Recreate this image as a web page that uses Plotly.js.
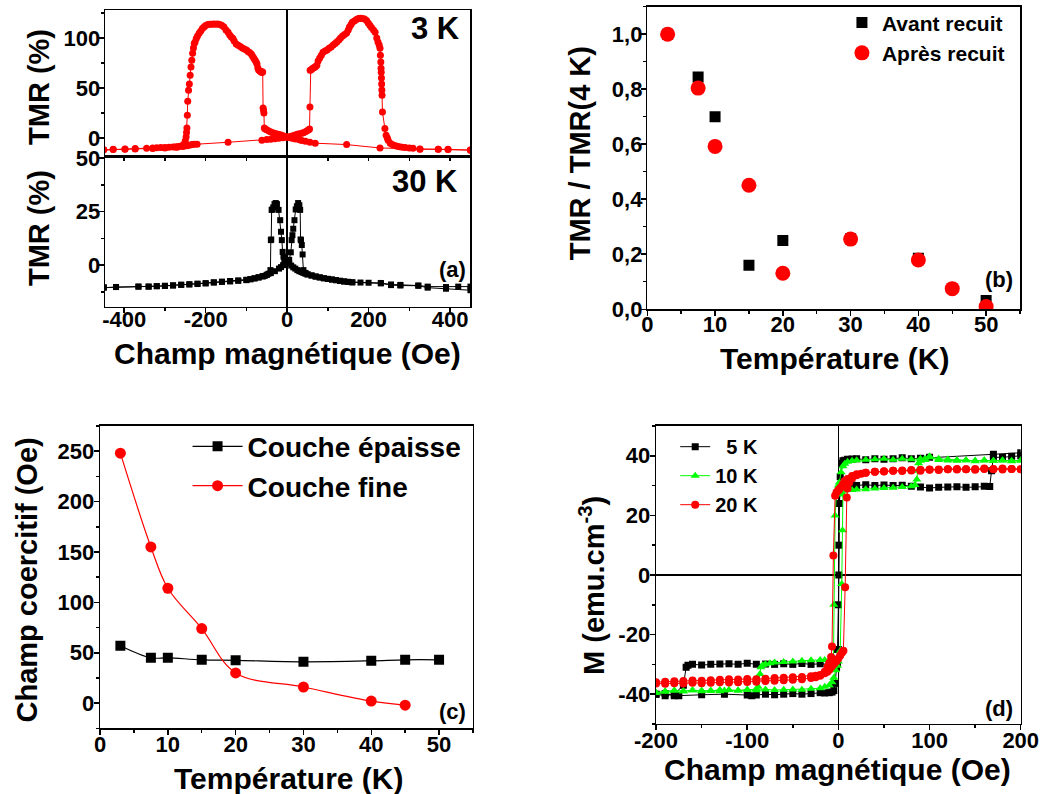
<!DOCTYPE html>
<html>
<head>
<meta charset="utf-8">
<script src="https://cdn.plot.ly/plotly-3.0.1.min.js"></script>
<style>html,body{margin:0;padding:0;background:#fff;}#chart{width:1042px;height:794px;}</style>
</head>
<body>
<div id="chart"></div>
<script>
// ---------- Panel (a) : TMR vs field, 3 K ----------
const tmr3K_fieldDown = [450, 395, 371, 326, 228, 146, 69, 56, 45, 36, 30, 20, 16, 10, 5, 0, -5, -10, -15, -20, -25, -30, -35, -40, -45, -50, -54, -56, -57, -58, -59, -60, -61, -62, -63, -65, -67, -70, -72, -74, -76, -79, -82, -85, -88, -92, -96, -100, -105, -110, -115, -120, -125, -130, -133, -137, -141, -145, -150, -155, -160, -165, -170, -175, -180, -185, -190, -195, -200, -204, -208, -212, -216, -220, -223, -226, -228, -230, -232, -234, -236, -238, -240, -242, -244, -245, -246, -247, -248, -250, -253, -256, -260, -265, -270, -275, -280, -290, -300, -310, -320, -330, -345, -373, -398, -427, -450];
const tmr3K_down = [-12, -11.3, -11.3, -11, -10, -6.6, -5.2, -4.3, -3.2, -2.5, -1.8, -1, -0.6, 0, 0.5, 1, 1.5, 2.2, 3, 3.5, 4, 4.5, 5.2, 6, 7, 8.2, 9, 10, 25, 28, 30, 66, 66, 65.5, 66, 66.5, 67, 68, 70, 74, 76, 78, 80, 82, 84, 85.5, 86.5, 88, 89, 90, 91.5, 92.7, 94, 97, 99.5, 101, 103, 105.7, 108, 111, 112.5, 113.5, 114, 113.8, 114, 113.7, 113.8, 113.5, 112.5, 111, 109.5, 107, 104.7, 102, 99.4, 96, 94.4, 90, 84.7, 77.7, 71, 62.7, 54, 47.7, 36.7, 22.7, 10, 5.4, 1, -3, -6, -7.5, -8, -8.5, -8.7, -9, -9, -9.2, -9.5, -9.6, -9.8, -10, -10.2, -10.5, -11, -11.3, -11.8];
const tmr3K_fieldUp = [-450, -427, -398, -373, -330, -300, -270, -255, -245, -238, -233, -228, -221, -145, -62, -50, -40, -30, -20, -10, 0, 5, 10, 16, 20, 25, 30, 36, 40, 45, 50, 53, 55, 56, 56.5, 58, 61, 64, 67, 70, 73, 76, 80, 84, 88, 93, 98, 103, 108, 113, 118, 122, 127, 131, 136, 141, 146, 150, 153, 157, 160, 165, 170, 175, 180, 185, 190, 195, 199, 203, 207, 212, 216, 220, 223, 226, 228, 229, 230, 230.5, 231, 231.5, 232, 232.5, 233, 234, 240, 243, 246, 248, 253, 258, 264, 270, 276, 283, 290, 300, 309, 326, 371, 395, 450];
const tmr3K_up = [-12, -11.5, -11.3, -11, -10.5, -10, -9.3, -8.5, -7.7, -7, -6.5, -6.3, -6.2, -4.3, -2.3, -1.6, -1.2, -0.7, -0.2, 0.3, 0.8, 1, 1.8, 2.5, 3, 3.6, 4.2, 4.8, 5.3, 6.2, 7.4, 8.3, 9, 31, 67.7, 68, 69, 70, 70.5, 71.5, 72.7, 77, 80, 82.7, 85.7, 87, 88, 89.7, 91, 93, 94.5, 96, 98, 100, 102, 103.5, 105, 108, 111, 113.5, 115.7, 117, 118.5, 119.5, 119.7, 119.5, 119, 117.5, 115, 112.7, 110.5, 108, 105.7, 100, 96, 93, 89.7, 82.7, 76, 69.7, 65.7, 60, 54, 48, 42.7, 26, 9.4, 2.7, 0, -2.3, -5.3, -6.5, -7.5, -8.3, -8.8, -9.2, -9.6, -10, -10.3, -11.3, -11.3, -11.5, -12.2];

// ---------- Panel (a) : TMR vs field, 30 K ----------
const tmr30K_fieldDown = [450, 420, 390, 345, 322, 278, 255, 230, 200, 180, 160, 150, 140, 130, 120, 110, 100, 90, 80, 70, 60, 50, 45, 40, 35, 30, 25, 20, 15, 10, 5, 0, -3, -7, -9, -11, -13, -15, -17, -21, -25, -28, -31, -34, -36, -38, -39, -40, -41, -46, -50, -55, -60, -70, -80, -90, -100, -120, -140, -160, -180, -200, -220, -240, -260, -280, -300, -320, -340, -365, -420, -450];
const tmr30K_down = [-10, -10, -10.2, -10, -9.5, -9.2, -9, -8.3, -8.2, -8.1, -8, -7.8, -7.6, -7.3, -7, -6.7, -6.4, -6.1, -5.7, -5.3, -4.8, -4.3, -4, -3.6, -3.2, -2.8, -2.3, -1.6, -1, -0.2, 0.8, 1.5, 2, 2.3, 4, 6.2, 11.7, 15.6, 21, 25.8, 28.5, 29, 28.5, 27, 26, 25.8, 12, 11.7, -2.3, -4, -4.5, -5, -5.3, -5.8, -6.2, -6.6, -7, -7.3, -7.6, -7.8, -8.1, -8.5, -8.8, -9, -9.2, -9.5, -9.7, -9.8, -10, -10, -10.2, -10.3];
const tmr30K_fieldUp = [-450, -420, -365, -340, -320, -300, -280, -260, -240, -220, -200, -180, -160, -140, -120, -100, -90, -80, -70, -60, -50, -40, -30, -20, -15, -10, -5, 0, 5, 9, 11, 13, 15, 18, 21, 24, 27, 30, 32, 33, 34, 36, 38, 40, 45, 50, 60, 70, 80, 90, 100, 110, 120, 130, 140, 150, 160, 230, 255, 278, 322, 345, 390, 450];
const tmr30K_up = [-10.5, -10.2, -10, -10, -9.8, -9.6, -9.4, -9.1, -8.9, -8.6, -8.4, -8, -7.7, -7.4, -7.1, -6.8, -6.5, -6.1, -5.6, -5.1, -4.5, -3.7, -2.8, -1.6, -0.9, 0, 0.9, 1.5, 2.5, 6, 11.7, 14, 17, 21, 26, 27.5, 29, 28, 25.8, 12, 11.7, 9.4, 5, -2.3, -3.6, -4.3, -4.8, -5.3, -5.7, -6.1, -6.4, -6.7, -7, -7.3, -7.6, -7.8, -8, -8.5, -9.3, -9.5, -9.6, -10.5, -11, -11.7];

// ---------- Panel (b) : normalised TMR vs temperature ----------
const tempAvant = [3, 7.5, 10, 15, 20, 30, 40, 50];
const tmrAvant = [1.0, 0.844, 0.70, 0.16, 0.25, 0.256, 0.185, 0.032];
const tempApres = [3, 7.5, 10, 15, 20, 30, 40, 45, 50];
const tmrApres = [1.0, 0.804, 0.592, 0.451, 0.131, 0.255, 0.179, 0.075, 0.01];

// ---------- Panel (c) : coercive field vs temperature ----------
const tempEpaisse = [3, 7.5, 10, 15, 20, 30, 40, 45, 50];
const hcEpaisse = [57, 45, 45, 43, 42.5, 41, 42, 43, 43];
const tempFine = [3, 7.5, 10, 15, 20, 30, 40, 45];
const hcFine = [248, 155, 114, 74, 30, 16, 2, -2];

// ---------- Panel (d) : M(H) loops ----------
const m5K_fieldDown = [200, 170, 100, 90, 80, 70, 60, 50, 40, 30, 20, 15, 10, 7, 5, 3.7, 2, 1, 0.5, 0, -1, -3, -5, -10, -20, -30, -40, -50, -60, -70, -80, -90, -100, -110, -120, -130, -140, -150, -160, -165, -167, -170, -180, -190, -200];
const m5K_down = [41, 40.5, 39.5, 39.2, 39, 39.3, 39, 38.8, 39, 38.7, 39, 38.9, 38.8, 38.5, 38.3, 37.5, 33, 24, 0, -25, -29.5, -30, -30.2, -30, -29.8, -30, -29.7, -30, -29.8, -30, -29.9, -30, -29.6, -30, -29.8, -29.9, -30, -30.2, -30, -30.3, -31, -37, -40, -40.5, -40];
const m5K_fieldUp = [-200, -190, -180, -175, -150, -125, -100, -95, -90, -80, -70, -60, -50, -40, -30, -20, -15, -10, -7, -5, -3.6, -2, -1, 0, 0.5, 1, 2, 3, 5, 10, 15, 20, 30, 40, 50, 60, 70, 80, 90, 100, 110, 120, 130, 140, 150, 160, 166, 168, 170, 180, 190, 200];
const m5K_up = [-40, -39.8, -40.5, -40.5, -40.2, -40, -40.3, -40.5, -40.3, -40, -40.2, -40, -39.8, -40, -39.8, -39.5, -39.6, -39.5, -39.3, -38.8, -36.4, -31, -25, -10, 10, 24, 28, 29.5, 30, 30, 30.2, 30, 30.3, 30, 30.2, 30, 30.1, 29.8, 29.5, 29.2, 29.4, 29.5, 29.6, 29.4, 29.6, 29.8, 29.7, 35, 39.5, 39.5, 39.8, 40];

const m10K_fieldDown = [200, 190, 180, 170, 160, 150, 140, 130, 120, 110, 100, 95, 90, 80, 70, 60, 50, 40, 30, 20, 15, 10, 7, 5, 3, 1, 0, -2, -3.6, -5, -5.5, -7, -10, -15, -20, -30, -40, -50, -60, -70, -75, -80, -83, -85, -86, -88, -90, -100, -110, -120, -130, -140, -150, -160, -170, -180, -190, -200];
const m10K_down = [38.5, 38.3, 38.5, 38.3, 38.4, 38.2, 38.5, 38.3, 38.4, 38.6, 39.5, 39, 39, 38.8, 39, 38.7, 39, 38.8, 38.7, 38.5, 38.3, 38, 37.3, 36.5, 34.5, 31, 30, 28, 20, -10, -31, -29.5, -28.5, -28.5, -28.5, -28.6, -28.8, -29, -29.2, -29.4, -29.6, -30, -30.3, -31, -33.2, -37.5, -38.3, -38.5, -38.8, -38.6, -39, -38.8, -39, -38.7, -39, -38.8, -39.2, -39.5];
const m10K_fieldUp = [-200, -190, -180, -170, -160, -150, -140, -130, -125, -120, -110, -100, -90, -80, -70, -60, -50, -40, -30, -20, -15, -10, -7, -5, -3, -1, 0, 2, 3.7, 4.5, 5, 6, 8, 10, 15, 20, 30, 40, 50, 60, 70, 80, 84, 86, 87, 88, 90, 95, 100, 110, 120, 130, 140, 150, 160, 170, 180, 190, 200];
const m10K_up = [-39.5, -39, -38.8, -39, -38.7, -38.8, -38.9, -38.5, -38.8, -38.6, -38.8, -38.5, -38.7, -38.4, -38.6, -38.5, -38.4, -38.5, -38.2, -38, -37.5, -37, -36, -34.5, -32, -30.5, -29, -25.4, -3, 15, 27, 28.3, 28.5, 28.6, 28.5, 28.7, 28.8, 29, 29.2, 29.3, 29.5, 29.8, 30.2, 32, 35, 37.5, 38.3, 38.6, 39.8, 39, 38.8, 38.6, 38.5, 38.4, 38.5, 38.3, 38.4, 38.2, 38.3];

const m20K_fieldDown = [200, 190, 180, 170, 160, 150, 140, 130, 120, 110, 100, 90, 80, 70, 60, 50, 40, 30, 20, 15, 10, 7, 5, 3, 1, 0, -2, -3.6, -5.5, -7, -8, -10, -12, -15, -20, -25, -30, -40, -50, -60, -70, -80, -90, -100, -110, -120, -130, -140, -150, -160, -170, -180, -190, -200];
const m20K_down = [35.5, 35.6, 35.4, 35.5, 35.6, 35.3, 35.5, 35.4, 35.5, 35.2, 35.3, 35, 35.1, 34.9, 35, 34.7, 34.6, 34.3, 33.8, 33.2, 32.2, 31.5, 30.5, 29.5, 28.8, 28.4, 27.8, 26.6, 6.5, -24, -27.5, -29.5, -31, -32.5, -33.8, -34.3, -34.6, -35, -35.2, -35.3, -35.5, -35.6, -35.8, -35.9, -36, -36.1, -36, -36.2, -36.3, -36.2, -36.4, -36.3, -36.5, -36.4];
const m20K_fieldUp = [-200, -190, -180, -170, -160, -150, -140, -130, -120, -110, -100, -90, -80, -70, -60, -50, -40, -30, -25, -20, -15, -12, -10, -8, -6, -4, -2, 0, 2, 4, 5.5, 7.4, 9.2, 10, 12, 15, 20, 25, 30, 40, 50, 60, 70, 80, 90, 100, 110, 120, 130, 140, 150, 160, 170, 180, 190, 200];
const m20K_up = [-36, -35.8, -35.7, -35.6, -35.4, -35.5, -35.3, -35.2, -35, -35.1, -34.9, -35, -34.8, -34.6, -34.5, -34.3, -34.2, -34, -33.8, -33.6, -33, -32.5, -31.8, -31, -30.2, -29.5, -28.8, -28, -27, -26, -25.4, -4.1, 26, 29, 31, 32.5, 33.5, 34, 34.3, 34.6, 34.8, 35, 35.1, 35.2, 35.3, 35.4, 35.4, 35.5, 35.6, 35.5, 35.6, 35.7, 35.6, 35.7, 35.6, 35.5];

// ---------- Tick values ----------
const ticksA_x = [-400, -200, 0, 200, 400];
const ticksA_yTop = [0, 50, 100];
const ticksA_yBot = [0, 25, 50];
const ticksT = [0, 10, 20, 30, 40, 50];
const ticksB_y = [0, 0.2, 0.4, 0.6, 0.8, 1.0];
const ticksB_yText = ['0,0', '0,2', '0,4', '0,6', '0,8', '1,0'];
const ticksC_y = [0, 50, 100, 150, 200, 250];
const ticksD_x = [-200, -100, 0, 100, 200];
const ticksD_y = [-40, -20, 0, 20, 40];

// ---------- Text ----------
const legendB = ['Avant recuit', 'Après recuit'];
const legendC = ['Couche épaisse', 'Couche fine'];
const legendD = ['\u00A0\u00A05 K', '10 K', '20 K'];

// ---------- Build ----------
const FONT = 'Liberation Sans, Arial, sans-serif';
const RED = '#FF0000', GREEN = '#00FF00', BLACK = '#000000';
const txt = (arr) => arr.map(v => String(v));

function ax(extra, minorDtick) {
  const base = {
    showline: true, linecolor: BLACK, linewidth: 1.5, mirror: true,
    ticks: 'outside', ticklen: 5, tickwidth: 1.5, tickcolor: BLACK,
    showgrid: false, zeroline: false, fixedrange: true, tickmode: 'array',
    tickfont: {family: FONT, size: 22, color: BLACK, weight: 'bold'},
    minor: {ticks: 'outside', ticklen: 3, tickwidth: 1.5, tickcolor: BLACK, dtick: minorDtick, tick0: 0, showgrid: false}
  };
  return Object.assign(base, extra);
}

const traces = [
  {x: tmr3K_fieldDown.concat(tmr3K_fieldUp), y: tmr3K_down.concat(tmr3K_up), xaxis: 'x', yaxis: 'y',
   mode: 'lines+markers', line: {color: RED, width: 1}, marker: {color: RED, size: 7, symbol: 'circle'},
   showlegend: false, name: '3 K'},
  {x: tmr30K_fieldDown.concat(tmr30K_fieldUp), y: tmr30K_down.concat(tmr30K_up), xaxis: 'x2', yaxis: 'y2',
   mode: 'lines+markers', line: {color: BLACK, width: 1}, marker: {color: BLACK, size: 6, symbol: 'square'},
   showlegend: false, name: '30 K'},
  {x: tempAvant, y: tmrAvant, xaxis: 'x3', yaxis: 'y3', mode: 'markers', name: legendB[0],
   marker: {color: BLACK, size: 11, symbol: 'square'}, legend: 'legend'},
  {x: tempApres, y: tmrApres, xaxis: 'x3', yaxis: 'y3', mode: 'markers', name: legendB[1],
   marker: {color: RED, size: 15, symbol: 'circle'}, legend: 'legend'},
  {x: tempEpaisse, y: hcEpaisse, xaxis: 'x4', yaxis: 'y4', mode: 'lines+markers', name: legendC[0],
   line: {color: BLACK, width: 1.2, shape: 'spline', smoothing: 1}, marker: {color: BLACK, size: 10, symbol: 'square'}, legend: 'legend2'},
  {x: tempFine, y: hcFine, xaxis: 'x4', yaxis: 'y4', mode: 'lines+markers', name: legendC[1],
   line: {color: RED, width: 1.2, shape: 'spline', smoothing: 1}, marker: {color: RED, size: 11, symbol: 'circle'}, legend: 'legend2'},
  {x: m5K_fieldDown.concat(m5K_fieldUp), y: m5K_down.concat(m5K_up), xaxis: 'x5', yaxis: 'y5', mode: 'lines+markers', name: legendD[0],
   line: {color: BLACK, width: 1}, marker: {color: BLACK, size: 7, symbol: 'square'}, legend: 'legend3'},
  {x: m10K_fieldDown.concat(m10K_fieldUp), y: m10K_down.concat(m10K_up), xaxis: 'x5', yaxis: 'y5', mode: 'lines+markers', name: legendD[1],
   line: {color: GREEN, width: 1}, marker: {color: GREEN, size: 8, symbol: 'triangle-up'}, legend: 'legend3'},
  {x: m20K_fieldDown.concat(m20K_fieldUp), y: m20K_down.concat(m20K_up), xaxis: 'x5', yaxis: 'y5', mode: 'lines+markers', name: legendD[2],
   line: {color: RED, width: 1}, marker: {color: RED, size: 8, symbol: 'circle'}, legend: 'legend3'}
];

function title(text, x, y, size, rot) {
  return {text: text, x: x, y: y, xref: 'paper', yref: 'paper', xanchor: 'center', yanchor: 'middle',
          showarrow: false, textangle: rot || 0, font: {family: FONT, size: size, color: BLACK, weight: 'bold'}};
}
function label(text, x, y, size) {
  return {text: text, x: x, y: y, xref: 'paper', yref: 'paper', xanchor: 'right', yanchor: 'middle',
          showarrow: false, font: {family: FONT, size: size, color: BLACK, weight: 'bold'}};
}

const legFont = (s) => ({family: FONT, size: s, color: BLACK, weight: 'bold'});

const layout = {
  width: 1042, height: 794, margin: {l: 0, r: 0, t: 0, b: 0},
  paper_bgcolor: '#fff', plot_bgcolor: '#fff',
  font: {family: FONT, color: BLACK},
  xaxis: ax({domain: [0.1008, 0.4511], range: [-447, 449], anchor: 'y', showticklabels: false, ticks: '',
             tickvals: ticksA_x, ticktext: txt(ticksA_x),
             zeroline: true, zerolinecolor: BLACK, zerolinewidth: 1.5}, 100),
  yaxis: ax({domain: [0.8023, 0.9874], range: [-19, 128], anchor: 'x', tickvals: ticksA_yTop, ticktext: txt(ticksA_yTop), ticklabelstandoff: -6}, 25),
  xaxis2: ax({domain: [0.1008, 0.4511], range: [-447, 449], anchor: 'y2', tickvals: ticksA_x, ticktext: txt(ticksA_x), ticklabelstandoff: -13,
              zeroline: true, zerolinecolor: BLACK, zerolinewidth: 1.5}, 100),
  yaxis2: ax({domain: [0.6134, 0.8023], range: [-19.5, 50.5], anchor: 'x2', tickvals: ticksA_yBot, ticktext: txt(ticksA_yBot), ticklabelstandoff: -6}, 12.5),
  xaxis3: ax({domain: [0.6212, 0.9789], range: [0, 55], anchor: 'y3', tickvals: ticksT, ticktext: txt(ticksT), ticklabelstandoff: -10}, 5),
  yaxis3: ax({domain: [0.6105, 0.9916], range: [0, 1.1], anchor: 'x3', tickvals: ticksB_y, ticktext: ticksB_yText, ticklabelstandoff: -6}, 0.1),
  xaxis4: ax({domain: [0.0960, 0.4539], range: [0, 55], anchor: 'y4', tickvals: ticksT, ticktext: txt(ticksT), ticklabelstandoff: -9}, 5),
  yaxis4: ax({domain: [0.0827, 0.4635], range: [-25, 275], anchor: 'x4', tickvals: ticksC_y, ticktext: txt(ticksC_y), ticklabelstandoff: -5}, 25),
  xaxis5: ax({domain: [0.6296, 0.9796], range: [-200, 200], anchor: 'y5', tickvals: ticksD_x, ticktext: txt(ticksD_x), ticklabelstandoff: -9,
              zeroline: true, zerolinecolor: BLACK, zerolinewidth: 1.2}, 50),
  yaxis5: ax({domain: [0.0882, 0.4635], range: [-50, 50], anchor: 'x5', tickvals: ticksD_y, ticktext: txt(ticksD_y), ticklabelstandoff: -5,
              zeroline: true, zerolinecolor: BLACK, zerolinewidth: 1.2}, 10),
  legend: {x: 0.808, y: 0.997, xanchor: 'left', yanchor: 'top', bgcolor: 'rgba(0,0,0,0)', font: legFont(21)},
  legend2: {x: 0.180, y: 0.469, xanchor: 'left', yanchor: 'top', bgcolor: 'rgba(0,0,0,0)', font: legFont(28), itemwidth: 50},
  legend3: {x: 0.648, y: 0.462, xanchor: 'left', yanchor: 'top', bgcolor: 'rgba(0,0,0,0)', font: legFont(20)},
  annotations: [
    title('Champ magnétique (Oe)', 0.2759, 0.5554, 30),
    title('TMR (%)', 0.0374, 0.8904, 29, -90),
    title('TMR (%)', 0.0374, 0.7128, 29, -90),
    title('Température (K)', 0.8013, 0.5491, 30),
    title('TMR / TMR(4 K)', 0.5566, 0.8069, 29, -90),
    title('Température (K)', 0.2764, 0.0190, 30),
    title('Champ coercitif (Oe)', 0.0264, 0.2695, 29, -90),
    title('Champ magnétique (Oe)', 0.8042, 0.0310, 30),
    title('M (emu.cm<sup>-3</sup>)', 0.5681, 0.2632, 29, -90),
    label('3 K', 0.4434, 0.9635, 31),
    label('30 K', 0.4415, 0.7712, 31),
    label('(a)', 0.449, 0.66, 22),
    label('(b)', 0.974, 0.6474, 22),
    label('(c)', 0.449, 0.1037, 22),
    label('(d)', 0.974, 0.1083, 22)
  ]
};

Plotly.newPlot('chart', traces, layout, {displayModeBar: false, staticPlot: true});
</script>
</body>
</html>
